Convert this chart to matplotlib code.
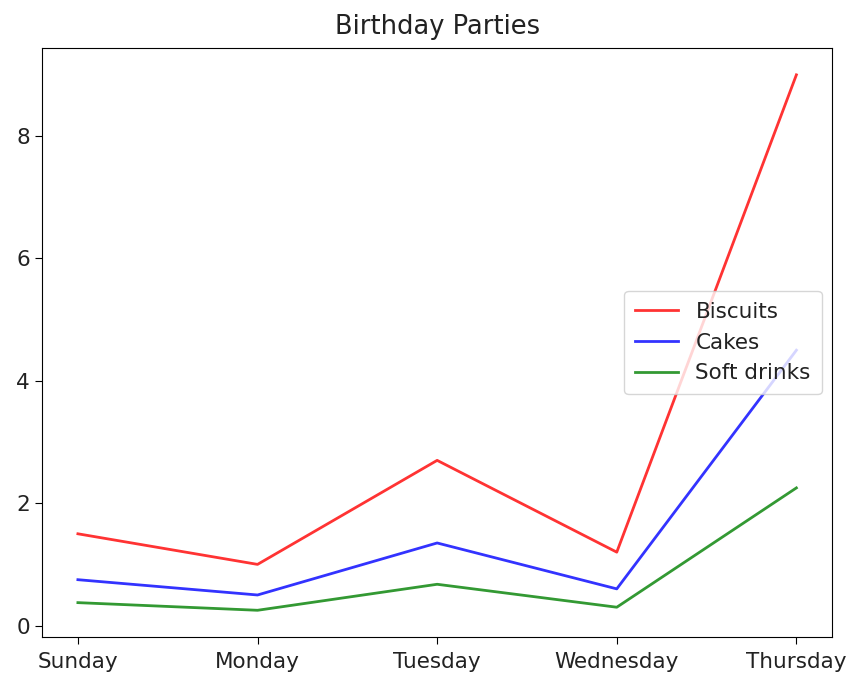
import matplotlib
matplotlib.use("Agg")
import matplotlib.pyplot as plt

days = ["Sunday", "Monday", "Tuesday", "Wednesday", "Thursday"]
biscuits = [1.5, 1.0, 2.7, 1.2, 9.0]
cakes = [0.75, 0.5, 1.35, 0.6, 4.5]
soft_drinks = [0.375, 0.25, 0.675, 0.3, 2.25]

plt.rcParams['font.size'] = 15.5
plt.rcParams['text.color'] = '#222222'
plt.rcParams['xtick.labelcolor'] = '#222222'
plt.rcParams['ytick.labelcolor'] = '#222222'
plt.rcParams['xtick.major.size'] = 5
plt.rcParams['ytick.major.size'] = 5
plt.rcParams['xtick.major.pad'] = 6

fig = plt.figure(figsize=(8.48, 6.77), dpi=100)
ax = fig.add_axes([0.0495, 0.059, 0.932, 0.87])

ax.plot(days, biscuits, color="red", alpha=0.8, lw=2, label="Biscuits")
ax.plot(days, cakes, color="blue", alpha=0.8, lw=2, label="Cakes")
ax.plot(days, soft_drinks, color="green", alpha=0.8, lw=2, label="Soft drinks")

ax.set_title("Birthday Parties", fontsize=18.5, pad=10)
ax.legend(loc="center right", borderpad=0.5)

fig.savefig("out.png")
